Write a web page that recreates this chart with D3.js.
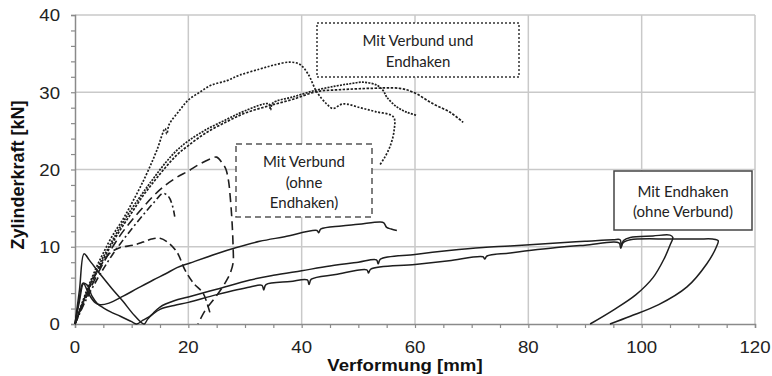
<!DOCTYPE html>
<html>
<head>
<meta charset="utf-8">
<script src="https://cdn.jsdelivr.net/npm/d3@7"></script>
<style>
  body { margin: 0; background: #fff; }
  svg { display: block; }
</style>
</head>
<body>
<div id="chart"></div>
<script>
// axis ticks
const xTicks = [0, 20, 40, 60, 80, 100, 120];
const yTicks = [0, 10, 20, 30, 40];

// Mit Verbund und Endhaken (dotted)
const verbundEndhaken1 = [[0,0],[1,2.2],[2,4.2],[3,6],[4,7.7],[5,9.2],[6.5,11.3],[8.5,13.6],[10,15.6],[11.5,17.7],[13,20],[14.5,22.6],[15.9,25.3],[16.2,24.6],[16.6,25.8],[18.5,27.7],[20,29],[22,30],[24,30.9],[26.8,31.5],[29,32.2],[32.6,33],[35,33.5],[37.9,33.9],[39.7,33.6],[41.1,32.4],[42.7,30],[44.4,28.5],[45.5,27.9],[47.3,28.5],[50.3,28],[53,27.5],[56.2,26.8],[56.3,25],[55.6,23],[54.6,21.5],[53.8,20.6]];
const verbundEndhaken2 = [[0,0],[2,4],[4,7.3],[6,10],[8,12.6],[10,14.9],[12,17],[14,19],[16,20.9],[18,22.5],[20,23.7],[23,25.1],[26.8,26.5],[30,27.6],[34.2,28.5],[34.5,27.7],[34.9,28.6],[38.5,29.4],[42.7,30.3],[46,30.8],[48.5,31.1],[50.8,31.3],[53.3,30.9],[54.4,30.2],[55,29.4],[56.8,28.1],[58.6,27.4],[60.3,27]];
const verbundEndhaken3 = [[0,0],[2,3.8],[4,7],[6,9.7],[8,12.2],[10,14.4],[12,16.6],[14,18.5],[16,20.3],[18,21.9],[20,23.1],[23,24.7],[26.8,26.2],[30,27.3],[34,28.2],[38.5,29.1],[42.7,30.1],[46,30.3],[48.5,30.4],[52,30.5],[57.3,30.5],[59.7,30],[63.2,28.5],[66.2,27.4],[68.5,26.1]];

// Mit Verbund (ohne Endhaken) (dashed)
const verbund1 = [[0,0],[2,3.5],[4,6.5],[6,9.2],[8,11.5],[10,13.4],[12,15.1],[14,16.7],[16,18],[18,19],[20,19.8],[22,20.7],[24,21.4],[25,21.6],[26,20.8],[26.6,20.1],[27.1,18.5],[27.4,16.4],[27.7,13.4],[27.9,10],[27.9,7.9],[27.4,6.6],[26.8,5.7],[25.6,4.3],[24.4,3.1],[23,1.8],[21.7,0]];
const verbund2 = [[0,0],[2,3.2],[4,5.9],[6,8.3],[8,10.4],[10,12.3],[12,14.1],[14,15.8],[15.5,16.9],[16.5,16.5],[17.2,15.3],[17.6,13.9]];
const verbund3 = [[0,0],[1.5,3],[3,5.5],[4.5,7.5],[6.2,9.2],[8,9.9],[10.3,10.2],[12,10.6],[13.5,11],[15,11.1],[16.5,10.5],[18,9.3],[19.4,7],[20.9,5.3],[22.6,4],[23.3,2.7],[23.8,1.5]];

// Mit Endhaken (ohne Verbund) (solid)
const endhaken1 = [[0,0],[0.8,4.5],[1.6,9.1],[2.5,8.3],[4.5,6.4],[6.5,4.6],[8.5,2.9],[10.5,1.1],[12.2,0],[12.8,0.6],[13.8,1.4],[15,2.2],[17.5,3],[20,3.5],[25,4.5],[30.9,5.7],[35,6.3],[40,6.9],[45,7.5],[50,8],[53.2,8.3],[53.5,7.8],[53.9,8.4],[60,9],[66,9.5],[72,9.9],[76.8,10.1],[85,10.5],[90,10.7],[95,10.9],[96.2,10.9],[96.4,10.1],[96.8,10.8],[98,11.2],[102,11.4],[105,11.5],[105.5,11.2],[105,10.2],[104,8.5],[102,6],[99,3.8],[95,1.8],[90.9,0]];
const endhaken2 = [[0,0],[0.7,3],[1.4,5.3],[2.2,5],[3,3.6],[4,2.6],[5,2.1],[6.2,1.6],[8,1],[10,0.3],[10.9,0],[12,0.5],[13.2,1],[15,1.9],[17.5,2.4],[20,2.8],[25,3.8],[30.9,4.8],[33,5],[33.3,4.4],[33.7,5.1],[38,5.5],[41,5.7],[41.3,5.1],[41.7,5.8],[46,6.4],[51.5,7],[51.8,6.6],[52.2,7.1],[60,7.7],[66,8.2],[72,8.7],[72.3,8.4],[72.7,8.8],[76.8,9.2],[85,9.9],[90,10.2],[96,10.5],[96.3,9.8],[96.7,10.5],[98,10.9],[105,11],[110,11],[112.5,11],[113.5,10.8],[113.2,10],[111.5,7.8],[108,4.8],[103,2.5],[98,1],[94.4,0]];
const endhaken3 = [[0,0],[0.8,3],[1.5,5.2],[2.5,3.8],[3.5,2.8],[4.4,2.5],[6,2.7],[8.5,3.6],[11,4.6],[13.8,5.7],[16,6.5],[18,7.3],[20.3,7.9],[25,9.1],[28.5,9.9],[32.6,10.7],[37,11.3],[42.7,12.1],[43,11.8],[43.4,12.3],[47,12.7],[50,12.9],[53.8,13.2],[54.5,13.1],[55,12.5],[55.8,12.3],[56.8,12.1]];

const width = 772, height = 376;
const margin = { top: 15, right: 17, bottom: 52, left: 75 };

const svg = d3.select("#chart").append("svg")
    .attr("width", width)
    .attr("height", height);

const x = d3.scaleLinear().domain([0, 120]).range([margin.left, width - margin.right]);
const y = d3.scaleLinear().domain([0, 40]).range([height - margin.bottom, margin.top]);

// grid
svg.append("g")
    .selectAll("line")
    .data(xTicks.slice(1))
    .join("line")
    .attr("x1", d => x(d)).attr("x2", d => x(d))
    .attr("y1", y(0)).attr("y2", y(40))
    .attr("stroke", "#c9c9c9").attr("stroke-width", 1.5);

svg.append("g")
    .selectAll("line")
    .data(yTicks.slice(1))
    .join("line")
    .attr("x1", x(0)).attr("x2", x(120))
    .attr("y1", d => y(d)).attr("y2", d => y(d))
    .attr("stroke", "#c9c9c9").attr("stroke-width", 1.5);

// axes
const xAxis = svg.append("g")
    .attr("transform", `translate(0,${y(0)})`)
    .call(d3.axisBottom(x).tickValues(d3.range(0, 121, 5)).tickSize(4).tickFormat(""));
const yAxis = svg.append("g")
    .attr("transform", `translate(${x(0)},0)`)
    .call(d3.axisLeft(y).tickValues(d3.range(0, 41, 2)).tickSize(4).tickFormat(""));
[xAxis, yAxis].forEach(g => {
    g.select(".domain").attr("stroke", "#8a8a8a").attr("stroke-width", 1.5);
    g.selectAll(".tick line").attr("stroke", "#8a8a8a").attr("stroke-width", 1.2);
});

// the reference type is slightly wider than Arial, so stretch it a bit
const tickFont = "'Liberation Sans', Arial, sans-serif";
const stretch = 1.13;

svg.append("g")
    .selectAll("text")
    .data(xTicks)
    .join("text")
    .attr("transform", d => `translate(${x(d)},353) scale(${stretch},1)`)
    .attr("text-anchor", "middle")
    .attr("font-family", tickFont)
    .attr("font-size", 16.5)
    .attr("fill", "#222")
    .text(d => d);

svg.append("g")
    .selectAll("text")
    .data(yTicks)
    .join("text")
    .attr("transform", d => `translate(60,${y(d) + 6.3}) scale(${stretch},1)`)
    .attr("text-anchor", "end")
    .attr("font-family", tickFont)
    .attr("font-size", 16.5)
    .attr("fill", "#222")
    .text(d => d);

svg.append("text")
    .attr("transform", `translate(405,371) scale(${stretch},1)`)
    .attr("text-anchor", "middle")
    .attr("font-family", tickFont)
    .attr("font-weight", "bold")
    .attr("font-size", 16.5)
    .attr("fill", "#111")
    .text("Verformung [mm]");

svg.append("text")
    .attr("transform", "translate(24,175) rotate(-90)")
    .attr("text-anchor", "middle")
    .attr("font-family", tickFont)
    .attr("font-weight", "bold")
    .attr("font-size", 18)
    .attr("fill", "#111")
    .text("Zylinderkraft [kN]");

// curves
const line = d3.line().x(d => x(d[0])).y(d => y(d[1])).curve(d3.curveCatmullRom.alpha(0.5));

const series = [
    { data: verbundEndhaken1, dash: "2,1.6", w: 1.7 },
    { data: verbundEndhaken2, dash: "2,1.2", w: 1.7 },
    { data: verbundEndhaken3, dash: "2.5,1.5", w: 1.7 },
    { data: verbund1, dash: "9,5", w: 1.6 },
    { data: verbund2, dash: "7,3,2,3", w: 1.6 },
    { data: verbund3, dash: "8,4", w: 1.6 },
    { data: endhaken1, dash: null, w: 1.5 },
    { data: endhaken2, dash: null, w: 1.5 },
    { data: endhaken3, dash: null, w: 1.5 }
];

svg.append("g")
    .selectAll("path")
    .data(series)
    .join("path")
    .attr("d", d => line(d.data))
    .attr("fill", "none")
    .attr("stroke", "#1e1e1e")
    .attr("stroke-width", d => d.w)
    .attr("stroke-dasharray", d => d.dash)
    .attr("stroke-linejoin", "round");

// label boxes
const boxFont = "Lato, 'Open Sans', sans-serif";
const boxes = [
    { x0: 317, y0: 23, x1: 519, y1: 77, dash: "2,2", stroke: "#333", lines: ["Mit Verbund und", "Endhaken"], ty: [46, 67] },
    { x0: 236, y0: 144, x1: 372, y1: 217, dash: "6,4", stroke: "#555", lines: ["Mit Verbund", "(ohne", "Endhaken)"], ty: [167, 188, 208] },
    { x0: 614, y0: 171, x1: 752, y1: 230, dash: null, stroke: "#444", lines: ["Mit Endhaken", "(ohne Verbund)"], ty: [197, 217] }
];

boxes.forEach(b => {
    svg.append("rect")
        .attr("x", b.x0).attr("y", b.y0)
        .attr("width", b.x1 - b.x0).attr("height", b.y1 - b.y0)
        .attr("fill", "#fff")
        .attr("stroke", b.stroke)
        .attr("stroke-width", 1.5)
        .attr("stroke-dasharray", b.dash);
    b.lines.forEach((t, i) => {
        svg.append("text")
            .attr("x", (b.x0 + b.x1) / 2)
            .attr("y", b.ty[i])
            .attr("text-anchor", "middle")
            .attr("font-family", boxFont)
            .attr("font-size", 15)
            .attr("fill", "#222")
            .text(t);
    });
});
</script>
</body>
</html>
